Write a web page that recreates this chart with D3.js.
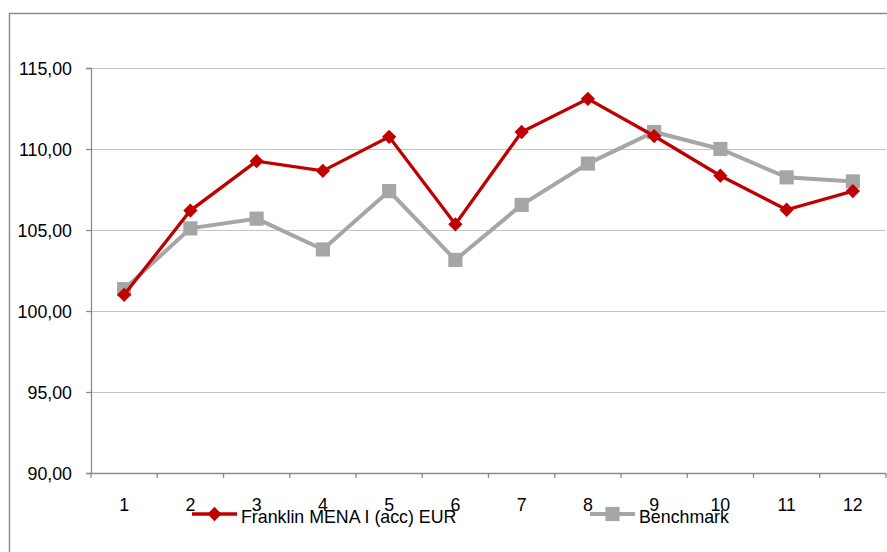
<!DOCTYPE html>
<html>
<head>
<meta charset="utf-8">
<script src="https://cdn.jsdelivr.net/npm/d3@7"></script>
<style>
body { margin: 0; background: #fff; }
svg text { font-family: "Liberation Sans", Arial, sans-serif; fill: #000; }
</style>
</head>
<body>
<div id="chart"></div>
<script>
// chart data
var categories = ["1", "2", "3", "4", "5", "6", "7", "8", "9", "10", "11", "12"];
var franklin = [101.0, 106.2, 109.25, 108.65, 110.75, 105.35, 111.05, 113.1, 110.8, 108.35, 106.25, 107.4];
var benchmark = [101.35, 105.1, 105.7, 103.8, 107.4, 103.15, 106.55, 109.1, 111.05, 110.0, 108.25, 108.0];
var yTicks = [90, 95, 100, 105, 110, 115];
var seriesNames = ["Franklin MENA I (acc) EUR", "Benchmark"];

var W = 887, H = 552;
var margin = {left: 91, top: 68, right: 1, bottom: 79};
var innerW = W - margin.left - margin.right,
    innerH = H - margin.top - margin.bottom;
var fontSize = "17.8px";

var svg = d3.select("#chart").append("svg")
    .attr("width", W)
    .attr("height", H);

// outer frame
svg.append("rect")
    .attr("x", 9.5).attr("y", 13.5)
    .attr("width", 900).attr("height", 560)
    .attr("fill", "none")
    .attr("stroke", "#8c8c8c")
    .attr("stroke-width", 1.5);

var g = svg.append("g")
    .attr("transform", "translate(" + margin.left + "," + margin.top + ")");

var x = d3.scaleBand().domain(categories).range([0, innerW]);
var y = d3.scaleLinear().domain([90, 115]).range([innerH, 0]);

// gridlines
g.append("g")
    .selectAll("line")
    .data(yTicks.slice(1))
    .enter()
    .append("line")
    .attr("x1", 0).attr("x2", innerW)
    .attr("y1", function (d) { return Math.round(y(d)) + 0.5; })
    .attr("y2", function (d) { return Math.round(y(d)) + 0.5; })
    .attr("stroke", "#c4c4c4")
    .attr("stroke-width", 1.2);

// y axis
var yAxis = g.append("g")
    .attr("class", "y axis")
    .call(d3.axisLeft(y).tickValues(yTicks).tickSize(5).tickPadding(14)
        .tickFormat(function (d) { return d3.format(".2f")(d).replace(".", ","); }));
yAxis.select(".domain").attr("stroke", "#8c8c8c").attr("stroke-width", 1.3);
yAxis.selectAll(".tick line").attr("stroke", "#8c8c8c").attr("stroke-width", 1.3);
yAxis.selectAll("text")
    .attr("font-size", fontSize)
    .attr("font-family", "Liberation Sans, Arial, sans-serif")
    .attr("dy", "0.35em");

// x axis, ticks at band boundaries
var xAxis = g.append("g")
    .attr("class", "x axis")
    .attr("transform", "translate(0," + innerH + ")");
xAxis.append("line")
    .attr("x1", 0).attr("x2", innerW)
    .attr("y1", 0.5).attr("y2", 0.5)
    .attr("stroke", "#8c8c8c").attr("stroke-width", 1.3);
xAxis.selectAll(".tk")
    .data(d3.range(categories.length + 1))
    .enter()
    .append("line")
    .attr("x1", function (i) { return i * x.bandwidth(); })
    .attr("x2", function (i) { return i * x.bandwidth(); })
    .attr("y1", 0).attr("y2", 5)
    .attr("stroke", "#8c8c8c").attr("stroke-width", 1.3);
xAxis.selectAll("text")
    .data(categories)
    .enter()
    .append("text")
    .attr("x", function (d) { return x(d) + x.bandwidth() / 2; })
    .attr("y", 38)
    .attr("text-anchor", "middle")
    .attr("font-size", fontSize)
    .text(function (d) { return d; });

var line = d3.line()
    .x(function (d, i) { return x(categories[i]) + x.bandwidth() / 2; })
    .y(function (d) { return y(d); });

var diamond = d3.symbol().type(d3.symbolDiamond2).size(130);
var square = d3.symbol().type(d3.symbolSquare).size(200);

// benchmark series
g.append("path")
    .datum(benchmark)
    .attr("d", line)
    .attr("fill", "none")
    .attr("stroke", "#a6a6a6")
    .attr("stroke-width", 4);
g.append("g").selectAll("path")
    .data(benchmark)
    .enter()
    .append("path")
    .attr("d", square)
    .attr("transform", function (d, i) {
        return "translate(" + (x(categories[i]) + x.bandwidth() / 2) + "," + y(d) + ")";
    })
    .attr("fill", "#a6a6a6");

// franklin series
g.append("path")
    .datum(franklin)
    .attr("d", line)
    .attr("fill", "none")
    .attr("stroke", "#c00000")
    .attr("stroke-width", 3.3);
g.append("g").selectAll("path")
    .data(franklin)
    .enter()
    .append("path")
    .attr("d", diamond)
    .attr("transform", function (d, i) {
        return "translate(" + (x(categories[i]) + x.bandwidth() / 2) + "," + y(d) + ")";
    })
    .attr("fill", "#c00000");

// legend (overlaps the category labels, as in the original)
var legend = [
    {name: seriesNames[0], x: 192, color: "#c00000", sym: diamond, w: 3.3},
    {name: seriesNames[1], x: 590, color: "#a6a6a6", sym: square, w: 4}
];
var lg = svg.append("g").selectAll("g")
    .data(legend)
    .enter()
    .append("g")
    .attr("transform", function (d) { return "translate(" + d.x + ",514)"; });
lg.append("line")
    .attr("x1", 0).attr("x2", 45)
    .attr("stroke", function (d) { return d.color; })
    .attr("stroke-width", function (d) { return d.w; });
lg.append("path")
    .attr("d", function (d) { return d.sym(); })
    .attr("transform", "translate(22.5,0)")
    .attr("fill", function (d) { return d.color; });
lg.append("text")
    .attr("x", 49)
    .attr("y", 8.5)
    .attr("font-size", fontSize)
    .text(function (d) { return d.name; });
</script>
</body>
</html>
